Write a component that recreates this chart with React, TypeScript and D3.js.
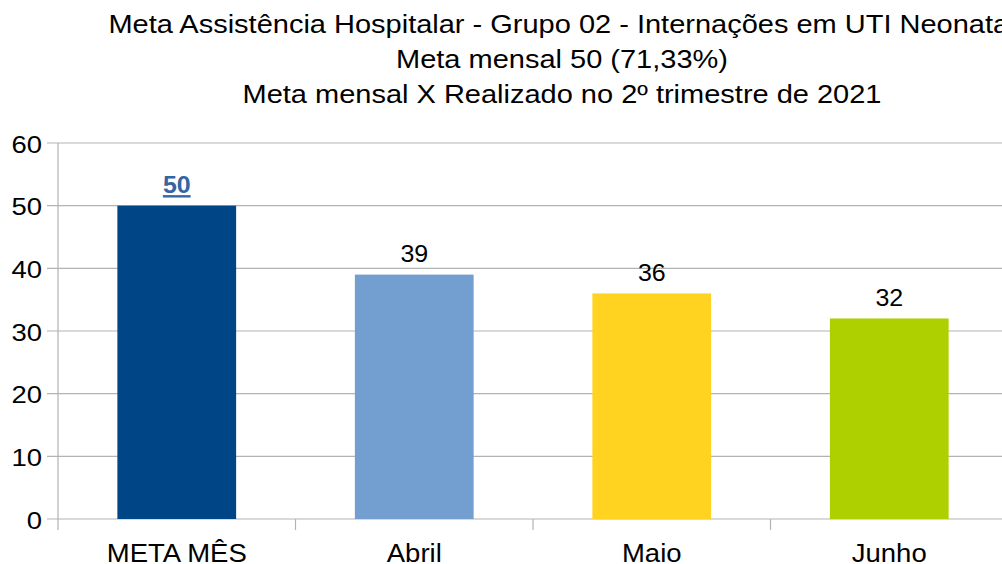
import React, { useEffect, useRef } from 'react';
import * as d3 from 'd3';

const categories = ['META MÊS', 'Abril', 'Maio', 'Junho'];
const values = [50, 39, 36, 32];
const barColors = ['#004586', '#729fcf', '#ffd320', '#aecf00'];
const yTicks = [0, 10, 20, 30, 40, 50, 60];
const titleLines = [
  'Meta Assistência Hospitalar - Grupo 02 - Internações em UTI Neonatal',
  'Meta mensal 50 (71,33%)',
  'Meta mensal X Realizado no 2º trimestre de 2021',
];

export default function App() {
  const svgRef = useRef<SVGSVGElement>(null);
  const width = 1002;
  const height = 564;

  useEffect(() => {
    const svg = d3.select(svgRef.current);
    svg.selectAll('*').remove();
    const font = 'Liberation Sans, Arial, sans-serif';

    const left = 58;
    const right = 1008;
    const top = 143;
    const bottom = 519;

    const x = d3.scaleBand().domain(categories).range([left, right]).paddingInner(0.5).paddingOuter(0.25);
    const y = d3.scaleLinear().domain([0, 60]).range([bottom, top]);

    svg.append('rect').attr('width', width).attr('height', height).attr('fill', '#fff');

    // title (text in the reference is a bit wider than the plain font)
    svg.selectAll('text.title')
      .data(titleLines)
      .join('text')
      .attr('transform', (_, i) => `translate(562,${33 + i * 35}) scale(1.16,1)`)
      .attr('text-anchor', 'middle')
      .attr('font-family', font)
      .attr('font-size', 25)
      .attr('fill', '#000')
      .text((d) => d);

    // gridlines
    svg.append('g')
      .selectAll('line')
      .data(yTicks)
      .join('line')
      .attr('x1', 47)
      .attr('x2', right)
      .attr('y1', (d) => y(d))
      .attr('y2', (d) => y(d))
      .attr('stroke', '#b3b3b3')
      .attr('stroke-width', 1.2);

    // y axis line
    svg.append('line')
      .attr('x1', left).attr('x2', left)
      .attr('y1', top).attr('y2', bottom + 11)
      .attr('stroke', '#b3b3b3').attr('stroke-width', 1.2);

    // x ticks between categories
    const step = x.step();
    [1, 2, 3].forEach((i) => {
      svg.append('line')
        .attr('x1', left + i * step).attr('x2', left + i * step)
        .attr('y1', bottom).attr('y2', bottom + 11)
        .attr('stroke', '#b3b3b3').attr('stroke-width', 1.2);
    });

    // y labels
    svg.append('g')
      .selectAll('text')
      .data(yTicks)
      .join('text')
      .attr('transform', (d) => `translate(42,${y(d) + 9.5}) scale(1.12,1)`)
      .attr('text-anchor', 'end')
      .attr('font-family', font)
      .attr('font-size', 24.5)
      .attr('fill', '#000')
      .text((d) => d);

    // bars
    svg.append('g')
      .selectAll('rect')
      .data(values)
      .join('rect')
      .attr('x', (_, i) => x(categories[i])!)
      .attr('width', x.bandwidth())
      .attr('y', (d) => y(d))
      .attr('height', (d) => bottom - y(d))
      .attr('fill', (_, i) => barColors[i]);

    // value labels
    svg.append('g')
      .selectAll('text')
      .data(values)
      .join('text')
      .attr('transform', (d, i) => `translate(${x(categories[i])! + x.bandwidth() / 2},${y(d) - 12.5}) scale(1.04,1)`)
      .attr('text-anchor', 'middle')
      .attr('font-family', font)
      .attr('font-size', 24)
      .attr('font-weight', (_, i) => (i === 0 ? 'bold' : 'normal'))
      .attr('text-decoration', (_, i) => (i === 0 ? 'underline' : 'none'))
      .attr('fill', (_, i) => (i === 0 ? '#3465a4' : '#000'))
      .text((d) => d);

    // category labels
    svg.append('g')
      .selectAll('text')
      .data(categories)
      .join('text')
      .attr('transform', (d) => `translate(${x(d)! + x.bandwidth() / 2},561.5) scale(1.1,1)`)
      .attr('text-anchor', 'middle')
      .attr('font-family', font)
      .attr('font-size', 25)
      .attr('fill', '#000')
      .text((d) => d);
  }, []);

  return (
    <svg
      ref={svgRef}
      width={width}
      height={height}
      style={{ position: 'absolute', left: 0, top: 0, display: 'block' }}
    />
  );
}
